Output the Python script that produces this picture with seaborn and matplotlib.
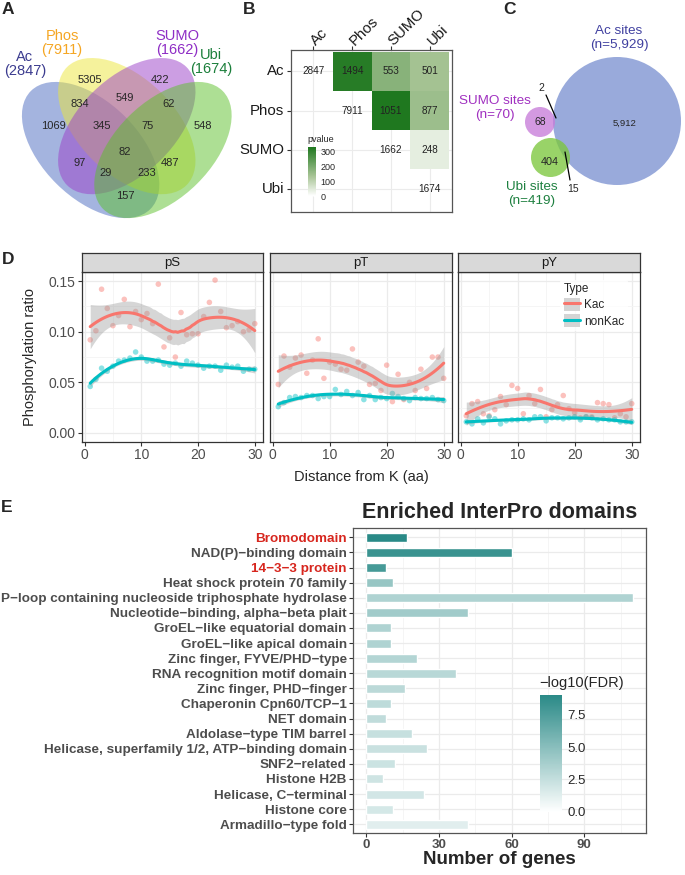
import numpy as np
import pandas as pd
import matplotlib
matplotlib.use("Agg")
import matplotlib.pyplot as plt
import seaborn as sns
from matplotlib.patches import Ellipse, Circle, Patch
from matplotlib.lines import Line2D
from matplotlib.colors import LinearSegmentedColormap, Normalize
from matplotlib.cm import ScalarMappable

# ---------------- data ----------------
# A: overlap of modified proteins
venn_sets = ["Ac", "Phos", "SUMO", "Ubi"]
venn_totals = [2847, 7911, 1662, 1674]
venn_counts = [5305, 422, 1069, 548, 834, 549, 62, 345, 75, 82, 97, 487, 29, 233, 157]

# B: pairwise overlaps and enrichment
mods = ["Ac", "Phos", "SUMO", "Ubi"]
pair_counts = [[2847, 1494, 553, 501],
               [None, 7911, 1051, 877],
               [None, None, 1662, 248],
               [None, None, None, 1674]]
pair_pvalue = [[np.nan, 320, 180, 140],
               [np.nan, np.nan, 333, 150],
               [np.nan, np.nan, np.nan, 40],
               [np.nan, np.nan, np.nan, np.nan]]

# C: overlap of modified lysine sites
site_names = ["Ac sites", "SUMO sites", "Ubi sites"]
site_totals = [5929, 70, 419]
site_only = [5912, 68, 404]
site_shared = [2, 15]  # SUMO&Ac, Ubi&Ac

# D: phosphorylation ratio vs distance from K
distance = list(range(1, 31))
pS_kac = [0.092, 0.101, 0.142, 0.123, 0.106, 0.116, 0.132, 0.105, 0.120, 0.112,
          0.118, 0.108, 0.147, 0.085, 0.094, 0.075, 0.119, 0.097, 0.098, 0.098,
          0.115, 0.129, 0.151, 0.120, 0.104, 0.106, 0.110, 0.100, 0.102, 0.108]
pS_non = [0.046, 0.053, 0.064, 0.061, 0.066, 0.071, 0.072, 0.074, 0.080, 0.075,
          0.071, 0.071, 0.072, 0.068, 0.067, 0.069, 0.066, 0.071, 0.069, 0.067,
          0.064, 0.066, 0.066, 0.062, 0.067, 0.065, 0.066, 0.061, 0.063, 0.063]
pT_kac = [0.048, 0.076, 0.065, 0.074, 0.077, 0.059, 0.072, 0.093, 0.054, 0.070,
          0.068, 0.063, 0.062, 0.083, 0.070, 0.066, 0.048, 0.049, 0.042, 0.067,
          0.031, 0.058, 0.033, 0.050, 0.042, 0.063, 0.044, 0.075, 0.075, 0.054]
pT_non = [0.026, 0.030, 0.035, 0.036, 0.035, 0.037, 0.037, 0.034, 0.036, 0.036,
          0.043, 0.038, 0.041, 0.037, 0.040, 0.033, 0.037, 0.033, 0.035, 0.034,
          0.039, 0.036, 0.034, 0.032, 0.035, 0.034, 0.034, 0.035, 0.033, 0.032]
pY_kac = [0.017, 0.029, 0.031, 0.019, 0.017, 0.023, 0.036, 0.028, 0.047, 0.044,
          0.019, 0.037, 0.029, 0.043, 0.016, 0.023, 0.028, 0.037, 0.024, 0.020,
          0.015, 0.016, 0.016, 0.030, 0.029, 0.028, 0.015, 0.019, 0.016, 0.029]
pY_non = [0.011, 0.009, 0.014, 0.010, 0.016, 0.014, 0.009, 0.012, 0.013, 0.013,
          0.014, 0.013, 0.016, 0.016, 0.012, 0.015, 0.015, 0.014, 0.015, 0.016,
          0.013, 0.016, 0.015, 0.013, 0.014, 0.013, 0.013, 0.011, 0.011, 0.011]
sites = ["pS", "pT", "pY"]

# E: enriched InterPro domains
domains = ["Bromodomain", "NAD(P)\u2212binding domain", "14\u22123\u22123 protein",
           "Heat shock protein 70 family",
           "P\u2212loop containing nucleoside triphosphate hydrolase",
           "Nucleotide\u2212binding, alpha\u2212beta plait",
           "GroEL\u2212like equatorial domain", "GroEL\u2212like apical domain",
           "Zinc finger, FYVE/PHD\u2212type", "RNA recognition motif domain",
           "Zinc finger, PHD\u2212finger", "Chaperonin Cpn60/TCP\u22121", "NET domain",
           "Aldolase\u2212type TIM barrel",
           "Helicase, superfamily 1/2, ATP\u2212binding domain", "SNF2\u2212related",
           "Histone H2B", "Helicase, C\u2212terminal", "Histone core",
           "Armadillo\u2212type fold"]
n_genes = [17, 60, 8, 11, 110, 42, 10, 10, 21, 37, 16, 10, 8, 19, 25, 12, 7, 24, 11, 42]
neglog_fdr = [9.0, 8.3, 7.8, 4.4, 3.4, 4.0, 3.4, 3.4, 3.2, 3.0,
              2.9, 2.8, 2.7, 2.4, 2.3, 2.2, 2.1, 1.9, 1.8, 1.3]
highlight = ["Bromodomain", "14\u22123\u22123 protein"]

# ---------------- figure ----------------
W, H = 685, 875
sns.set_style("white")
plt.rcParams["font.family"] = ["Liberation Sans", "DejaVu Sans"]
fig = plt.figure(figsize=(W / 100, H / 100), dpi=100)


def px_axes(x0, y0, x1, y1):
    return fig.add_axes([x0 / W, 1 - y1 / H, (x1 - x0) / W, (y1 - y0) / H])


def letter(x, y, s):
    fig.text(x / W, 1 - y / H, s, fontsize=12.5, weight="bold", ha="center", va="center")


def loess(x, y, grid, span=0.75):
    x = np.asarray(x, float)
    y = np.asarray(y, float)
    n = len(x)
    q = int(np.floor(n * span))

    def weights_row(x0):
        d = np.abs(x - x0)
        h = np.sort(d)[q - 1] * 1.0001
        w = np.clip(1 - (d / h) ** 3, 0, None) ** 3
        A = np.column_stack([np.ones(n), x - x0, (x - x0) ** 2])
        AtW = A.T * w
        return np.linalg.solve(AtW @ A, AtW)[0]

    L = np.array([weights_row(v) for v in x])
    R = np.eye(n) - L
    resid = R @ y
    sigma = np.sqrt(resid @ resid / np.trace(R.T @ R))
    G = np.array([weights_row(v) for v in grid])
    return G @ y, sigma * np.sqrt((G ** 2).sum(1))


# ---------- A: 4-way Venn ----------
letter(8, 9, "A")
axA = px_axes(0, 0, 235, 220)
axA.set_xlim(-0.026, 0.949)
axA.set_ylim(0.177, 1.098)
axA.axis("off")
ell_xy = [(0.35, 0.47), (0.5, 0.57), (0.5, 0.57), (0.65, 0.47)]
ell_angle = [-45, -45, 45, 45]
venn_fill = ["#4A6AC0", "#EDE63A", "#9B3FC9", "#5CC02A"]
venn_text = ["#3B3B8F", "#F5A623", "#8E2DC5", "#1B7F3B"]
for (cx, cy), ang, col in zip(ell_xy, ell_angle, venn_fill):
    axA.add_patch(Ellipse((cx, cy), 0.7, 0.4, angle=ang, facecolor=col, alpha=0.5, lw=0))
region_xy = [(0.347, 0.763), (0.637, 0.763), (0.194, 0.570), (0.816, 0.570),
             (0.306, 0.663), (0.492, 0.688), (0.675, 0.663), (0.397, 0.570),
             (0.588, 0.570), (0.492, 0.462), (0.306, 0.416), (0.679, 0.416),
             (0.414, 0.374), (0.584, 0.374), (0.492, 0.278)]
for n, (x, y) in zip(venn_counts, region_xy):
    axA.text(x, y, str(n), ha="center", va="center", fontsize=8)
cat_xy = [(0.077, 0.828), (0.231, 0.920), (0.708, 0.920), (0.849, 0.840)]
for name, tot, (x, y), col in zip(venn_sets, venn_totals, cat_xy, venn_text):
    axA.text(x, y, f"{name}\n({tot})", color=col, fontsize=10.5, ha="center",
             va="center", linespacing=1.0)

# ---------- B: pairwise heatmap ----------
letter(249, 9, "B")
axB = px_axes(291, 50, 452, 212)
pv = pd.DataFrame(pair_pvalue, index=mods, columns=mods)
green_cmap = LinearSegmentedColormap.from_list(
    "pv", [(0, "#FFFFFF"), (0.4, "#A8C496"), (1, "#1F781F")])
sns.heatmap(pv, ax=axB, cmap=green_cmap, vmin=0, vmax=333, cbar=False,
            linewidths=0, square=False)
for i, row in enumerate(pair_counts):
    for j, v in enumerate(row):
        if v is not None:
            axB.text(j + 0.5, i + 0.5, str(v), ha="center", va="center",
                     fontsize=7.2, color="#222222")
axB.set_xlim(-0.07, 4.07)
axB.set_ylim(4.1, -0.05)
axB.set_axisbelow(True)
axB.grid(True, color="#EBEBEB", lw=0.8)
axB.xaxis.tick_top()
axB.set_xlabel("")
axB.set_ylabel("")
axB.set_xticks(np.arange(4) + 0.5)
axB.set_xticklabels(mods, rotation=45, ha="left", va="center", rotation_mode="anchor",
                    fontsize=10.8, color="#1A1A1A")
axB.set_yticks(np.arange(4) + 0.5)
axB.set_yticklabels(mods, rotation=0, fontsize=10.8, color="#1A1A1A")
axB.tick_params(length=3, color="#333333", top=True, left=True, bottom=False, pad=2)
for s in axB.spines.values():
    s.set_visible(True)
    s.set_color("#555555")
    s.set_linewidth(0.9)
caxB = px_axes(308, 147, 316, 196)
cbB = fig.colorbar(ScalarMappable(Normalize(0, 333), green_cmap), cax=caxB, ticks=[0, 100, 200, 300])
cbB.outline.set_visible(False)
caxB.tick_params(labelsize=6.5, length=2.5, color="white", direction="in", pad=3)
fig.text(307 / W, 1 - 139 / H, "pvalue", fontsize=6.5, va="center")

# ---------- C: site Venn ----------
letter(510, 9, "C")
axC = px_axes(470, 0, 685, 220)
axC.set_xlim(470, 685)
axC.set_ylim(220, 0)
axC.axis("off")
circ_xy = [(617, 121), (540, 122), (550.5, 157.5)]
circ_r = [64, 15, 19.5]
circ_col = ["#7C92D1", "#C77CD9", "#7CC73D"]
circ_txt = ["#4040A0", "#A030C0", "#1E8040"]
for (cx, cy), r, col in zip(circ_xy, circ_r, circ_col):
    axC.add_patch(Circle((cx, cy), r, facecolor=col, alpha=0.78, lw=0))
label_xy = [(619, 38), (495, 108), (532, 194)]
for name, tot, (x, y), col in zip(site_names, site_totals, label_xy, circ_txt):
    axC.text(x, y, f"{name}\n(n={tot:,})", color=col, fontsize=9.7, ha="center",
             va="center", linespacing=1.25)
only_xy = [(625, 123), (540, 122), (550, 162)]
only_fs = [6.8, 7.5, 7.8]
for n, (x, y), fs in zip(site_only, only_xy, only_fs):
    axC.text(x, y, f"{n:,}", fontsize=fs, ha="center", va="center")
axC.plot([546, 556], [95, 118], color="black", lw=0.9)
axC.text(541, 88, str(site_shared[0]), fontsize=7.5, ha="center", va="center")
axC.plot([565, 570], [152, 180], color="black", lw=0.9)
axC.text(573, 189, str(site_shared[1]), fontsize=7.5, ha="center", va="center")

# ---------- D: faceted smooths ----------
letter(8, 260, "D")
series = {"pS": (pS_kac, pS_non), "pT": (pT_kac, pT_non), "pY": (pY_kac, pY_non)}
rows = []
for site, (kac, non) in series.items():
    for d, a, b in zip(distance, kac, non):
        rows.append((site, d, "Kac", a))
        rows.append((site, d, "nonKac", b))
df = pd.DataFrame(rows, columns=["site", "Distance", "Type", "ratio"])
pal = {"Kac": "#F8766D", "nonKac": "#00BFC4"}
grid_x = np.linspace(1, 30, 80)
panels_x = [(82, 263), (270, 452), (458, 640)]
axesD = []
for k, (site, (x0, x1)) in enumerate(zip(sites, panels_x)):
    ax = px_axes(x0, 272, x1, 442)
    axesD.append(ax)
    sub = df[df.site == site]
    ax.set_axisbelow(True)
    sns.scatterplot(data=sub, x="Distance", y="ratio", hue="Type", palette=pal,
                    s=16, alpha=0.45, edgecolor="none", legend=False, ax=ax, zorder=2)
    fits = []
    for t in ["Kac", "nonKac"]:
        s = sub[sub.Type == t]
        f, se = loess(s.Distance.values, s.ratio.values, grid_x)
        ax.fill_between(grid_x, f - 2.06 * se, f + 2.06 * se, color="#999999",
                        alpha=0.4, lw=0, zorder=3)
        fits.append(pd.DataFrame({"Distance": grid_x, "fit": f, "Type": t}))
    sns.lineplot(data=pd.concat(fits), x="Distance", y="fit", hue="Type", palette=pal,
                 lw=2.2, legend=False, ax=ax, zorder=4)
    ax.set_xlim(-0.45, 31.45)
    ax.set_ylim(-0.0089, 0.159)
    ax.set_xticks([0, 10, 20, 30])
    ax.set_xticks([5, 15, 25], minor=True)
    ax.set_yticks([0, 0.05, 0.10, 0.15])
    ax.set_yticks([0.025, 0.075, 0.125], minor=True)
    ax.grid(True, which="major", color="#EBEBEB", lw=0.9)
    ax.grid(True, which="minor", color="#F4F4F4", lw=0.6)
    ax.tick_params(which="major", length=3, color="#333333", labelsize=10,
                   labelcolor="#4D4D4D", pad=1.5, left=(k == 0), bottom=True)
    ax.tick_params(which="minor", length=0)
    ax.set_xlabel("")
    ax.set_ylabel("")
    if k == 0:
        ax.set_yticklabels(["0.00", "0.05", "0.10", "0.15"])
    else:
        ax.set_yticklabels([])
    for sp in ax.spines.values():
        sp.set_color("#333333")
        sp.set_linewidth(0.9)
    strip = px_axes(x0, 253, x1, 272)
    strip.set_facecolor("#D9D9D9")
    strip.set_xticks([])
    strip.set_yticks([])
    for sp in strip.spines.values():
        sp.set_color("#333333")
        sp.set_linewidth(0.9)
    strip.text(0.5, 0.45, site, ha="center", va="center", fontsize=9.5, color="#1A1A1A",
               transform=strip.transAxes)
fig.text(30 / W, 1 - 357 / H, "Phosphorylation ratio", rotation=90, fontsize=10.5,
         ha="center", va="center")
fig.text(361 / W, 1 - 477 / H, "Distance from K (aa)", fontsize=10.5, ha="center",
         va="center")
handles = [(Patch(facecolor="#D4D4D4", edgecolor="none"),
            Line2D([], [], color=pal[t], lw=2.2)) for t in ["Kac", "nonKac"]]
leg = axesD[2].legend(handles, ["Kac", "nonKac"], title="Type", loc="upper left",
                      bbox_to_anchor=(0.53, 0.99), frameon=True, fontsize=8.5,
                      title_fontsize=8.5, handlelength=1.4, handleheight=1.3,
                      labelspacing=0.25, borderpad=0.3, handletextpad=0.3,
                      alignment="left")
leg.get_frame().set_edgecolor("none")
leg.get_frame().set_facecolor("white")

# ---------- E: InterPro bar chart ----------
letter(7, 508, "E")
axE = px_axes(353, 528, 646, 833)
teal_cmap = LinearSegmentedColormap.from_list("fdr", ["#FFFFFF", "#2A8A87"])
normE = Normalize(0, 9.0)
dE = pd.DataFrame({"domain": domains, "genes": n_genes, "fdr": neglog_fdr})
bar_pal = {d: teal_cmap(normE(v)) for d, v in zip(domains, neglog_fdr)}
axE.set_axisbelow(True)
sns.barplot(data=dE, x="genes", y="domain", hue="domain", palette=bar_pal,
            width=0.6, legend=False, ax=axE, saturation=1)
axE.set_xlim(-5.5, 115.5)
axE.set_ylim(19.58, -0.62)
axE.set_xticks([0, 30, 60, 90])
axE.set_xticks([15, 45, 75, 105], minor=True)
axE.grid(True, which="major", color="#EBEBEB", lw=0.9)
axE.grid(True, which="minor", axis="x", color="#F4F4F4", lw=0.6)
axE.tick_params(which="major", length=3, color="#333333", pad=1.5, left=True, bottom=True)
axE.tick_params(which="minor", length=0)
axE.tick_params(axis="x", labelsize=9.5, labelcolor="#4D4D4D")
axE.tick_params(axis="y", labelsize=9.7)
for lab in axE.get_xticklabels():
    lab.set_fontweight("bold")
for lab in axE.get_yticklabels():
    lab.set_fontweight("bold")
    lab.set_color("#D7261E" if lab.get_text() in highlight else "#4D4D4D")
axE.set_ylabel("")
axE.set_xlabel("Number of genes", fontsize=13.5, weight="bold", labelpad=0)
axE.set_title("Enriched InterPro domains", fontsize=15.5, weight="bold", pad=7)
for sp in axE.spines.values():
    sp.set_color("#555555")
    sp.set_linewidth(0.9)
caxE = px_axes(540, 695, 562, 812)
cbE = fig.colorbar(ScalarMappable(normE, teal_cmap), cax=caxE, ticks=[0, 2.5, 5, 7.5])
cbE.outline.set_visible(False)
cbE.ax.set_yticklabels(["0.0", "2.5", "5.0", "7.5"])
caxE.tick_params(labelsize=9.5, length=4, color="white", direction="in", pad=4)
fig.text(539 / W, 1 - 683 / H, "\u2212log10(FDR)", fontsize=10.5, va="center")

fig.savefig("out.png", dpi=100)
